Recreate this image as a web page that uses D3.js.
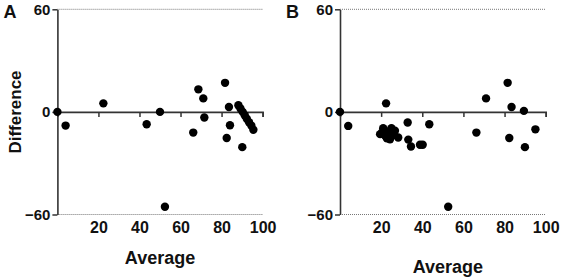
<!DOCTYPE html>
<html>
<head>
<meta charset="utf-8">
<script src="https://cdn.jsdelivr.net/npm/d3@7"></script>
<style>
  body { margin: 0; background: #fff; }
  text { font-family: "Liberation Sans", Arial, sans-serif; font-weight: bold; fill: #111; }
</style>
</head>
<body>
<div id="chart"></div>
<script>
// panel A data
var avgA = [0, 4, 22.4, 43.5, 50, 52.4, 66.2, 68.7, 71.1, 71.6, 81.7, 82.5, 83.6, 84.1,
    88.2, 89.2, 90.1, 90.3, 91.3, 92.3, 93.4, 94.5, 95.5];
var diffA = [0, -8, 5, -7.2, 0, -55.5, -12.1, 13.2, 7.9, -3.3, 17, -15.3, 2.9, -7.8,
    3.9, 2, -20.6, 0, -2, -4, -6, -8, -10.4];

// panel B data
var avgB = [0, 4, 19.5, 20.5, 21, 22, 22.4, 22.8, 23.5, 24.3, 25, 26, 26.7, 28.3, 24,
    32.9, 33.2, 34.5, 38.9, 40.2, 43.4, 52.6, 66.3, 71, 81.5, 82.3, 83.4, 89.4, 89.9, 95];
var diffB = [0, -8.2, -13, -12, -9.5, -14, 5, -15.5, -11.5, -16, -9.5, -13.5, -11, -15, -13,
    -6.2, -16.2, -20.2, -19.2, -19.2, -7.2, -55.5, -12.1, 7.9, 17, -15.3, 2.9, 0.6, -20.6, -10.2];

var xTicks = [20, 40, 60, 80, 100];
var yTicks = [-60, 0, 60];

var width = 561, height = 278;
var svg = d3.select("#chart").append("svg")
    .attr("width", width)
    .attr("height", height);

function drawPanel(letter, x0, x1, avg, diff, titleY) {
    var x = d3.scaleLinear().domain([0, 100]).range([x0, x1]);
    var y = d3.scaleLinear().domain([-60, 60]).range([214.5, 9.3]);
    var g = svg.append("g");

    // dotted limit lines
    g.selectAll(".grid").data([60, -60]).enter().append("line")
        .attr("x1", x(0)).attr("x2", x(100))
        .attr("y1", d => y(d)).attr("y2", d => y(d))
        .attr("stroke", "#777")
        .attr("stroke-width", 1)
        .attr("stroke-dasharray", "1,1");

    // zero axis with ticks pointing down
    var xAxis = g.append("g")
        .attr("transform", "translate(0," + y(0) + ")")
        .call(d3.axisBottom(x).tickValues(xTicks).tickSize(5).tickFormat(""));
    xAxis.select(".domain").attr("stroke", "#333").attr("stroke-width", 1.6);
    xAxis.selectAll(".tick line").attr("stroke", "#333").attr("stroke-width", 1.5);

    // tick labels below the plot
    var xLab = g.append("g")
        .attr("transform", "translate(0,222)")
        .call(d3.axisBottom(x).tickValues(xTicks).tickSize(0).tickPadding(0));
    xLab.select(".domain").remove();
    xLab.selectAll("text")
        .style("font-size", "16px")
        .style("font-family", "'Liberation Sans', Arial, sans-serif")
        .style("font-weight", "bold")
        .style("fill", "#111")
        .attr("dy", "0.71em");

    // y axis
    var yAxis = g.append("g")
        .attr("transform", "translate(" + x(0) + ",0)")
        .call(d3.axisLeft(y).tickValues(yTicks).tickSize(5).tickSizeOuter(0).tickPadding(2));
    yAxis.select(".domain").attr("stroke", "#333").attr("stroke-width", 1.6);
    yAxis.selectAll(".tick line").attr("stroke", "#333").attr("stroke-width", 1.5);
    yAxis.selectAll("text")
        .style("font-size", "15px")
        .style("font-family", "'Liberation Sans', Arial, sans-serif")
        .style("font-weight", "bold")
        .style("fill", "#111");

    // points
    var pts = avg.map((d, i) => [d, diff[i]]);
    g.selectAll(".dot").data(pts).enter().append("circle")
        .attr("cx", d => x(d[0]))
        .attr("cy", d => y(d[1]))
        .attr("r", 4.2)
        .attr("fill", "#000");

    // panel letter
    g.append("text")
        .attr("x", x0 - 54)
        .attr("y", 18)
        .style("font-size", "18px")
        .text(letter);

    // x title
    g.append("text")
        .attr("x", (x0 + x1) / 2 + (letter === "A" ? 0 : 5))
        .attr("y", titleY)
        .attr("text-anchor", "middle")
        .style("font-size", "18px")
        .text("Average");
}

drawPanel("A", 57.4, 262.6, avgA, diffA, 264);
drawPanel("B", 340, 545.7, avgB, diffB, 273);

// y title for panel A
svg.append("text")
    .attr("transform", "translate(21,112) rotate(-90)")
    .attr("text-anchor", "middle")
    .style("font-size", "17px")
    .text("Difference");
</script>
</body>
</html>
